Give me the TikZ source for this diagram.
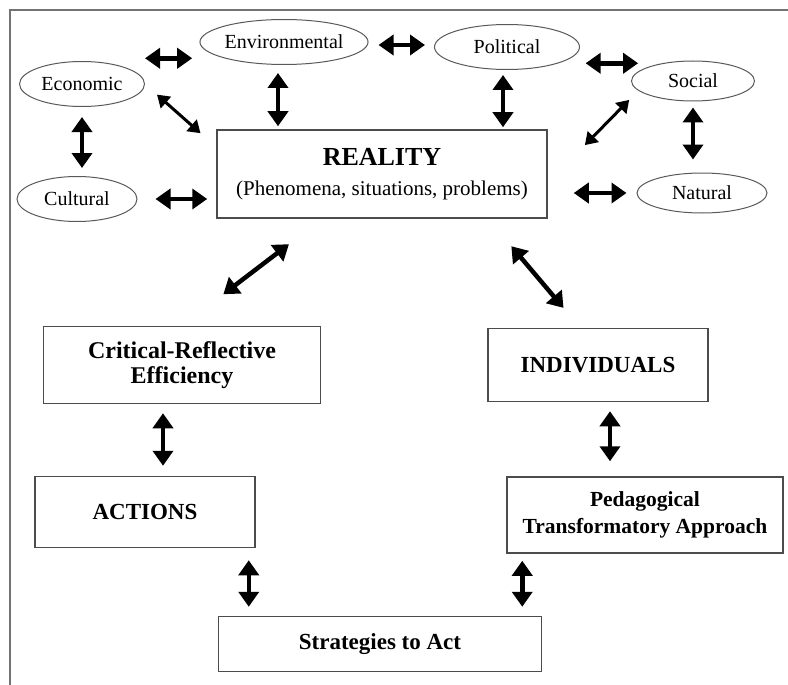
\documentclass[tikz,border=0pt]{standalone}
\usepackage{fontspec}
\setmainfont{Liberation Serif}
\usetikzlibrary{shapes.geometric,arrows.meta,calc}

\begin{document}
\begin{tikzpicture}[x=1pt,y=-1pt]
\tikzstyle{factor}=[draw=black!65,line width=1pt,shape=ellipse,inner sep=0pt,font=\fontsize{20}{22}\selectfont]
\tikzstyle{block}=[draw=black!70,line width=1.5pt,shape=rectangle,inner sep=0pt,align=center,font=\fontsize{23}{26}\selectfont\bfseries]
\tikzstyle{link}=[line width=4.5pt,{Triangle[length=15pt,width=20pt]}-{Triangle[length=15pt,width=20pt]}]
\tikzstyle{thinlink}=[line width=3pt,{Triangle[length=12pt,width=15pt]}-{Triangle[length=12pt,width=15pt]}]
\useasboundingbox (0,0) rectangle (788,685);
\draw[black!55,line width=1.5pt] (10,685) -- (10,10) -- (788,10);

\path (82,84) node[factor,minimum width=125pt,minimum height=45pt](econ){Economic}
 (284,42) node[factor,minimum width=155pt,minimum height=45pt](env){Environmental}
 (507,47) node[factor,minimum width=145pt,minimum height=45pt](pol){Political}
 (693,81) node[factor,minimum width=123pt,minimum height=40pt](soc){Social}
 (702,193) node[factor,minimum width=130pt,minimum height=40pt](nat){Natural}
 (77,199) node[factor,minimum width=120pt,minimum height=45pt](cult){Cultural};

\path (382,174) node[block,minimum width=330pt,minimum height=88pt,font=\fontsize{21}{30}\selectfont](real){{\bfseries\fontsize{26}{30}\selectfont REALITY}\\(Phenomena, situations, problems)}
 (182,365) node[block,minimum width=277pt,minimum height=77pt,font=\fontsize{24}{25}\selectfont\bfseries](crit){Critical-Reflective\\Efficiency}
 (598,365) node[block,minimum width=220pt,minimum height=73pt](ind){INDIVIDUALS}
 (145,512) node[block,minimum width=220pt,minimum height=71pt](act){ACTIONS}
 (645,515) node[block,minimum width=276pt,minimum height=76pt,font=\fontsize{21.5}{27}\selectfont\bfseries](ped){Pedagogical\\Transformatory Approach}
 (380,644) node[block,minimum width=323pt,minimum height=55pt](strat){Strategies to Act};

\draw[link,shorten <=32pt] (env.south west) -- (env.south west -| econ.east);
\draw[link,shorten <=10pt,shorten >=9pt] ([yshift=-3pt]env.east) -- ([yshift=-3pt]env.east -| pol.west);
\draw[link,shorten <=27pt,shorten >=11pt] (pol.south east) -- (pol.south east -| soc.north west);
\draw[link,shorten <=8pt,shorten >=3pt] ([xshift=-6pt]env.south) -- ([xshift=-6pt]env.south |- real.north);
\draw[link,shorten <=5pt,shorten >=2pt] ([xshift=-4pt]pol.south) -- ([xshift=-4pt]pol.south |- real.north);
\draw[link,shorten <=10pt,shorten >=8pt] (econ.south) -- (econ.south |- cult.north);
\draw[link,shorten <=6pt,shorten >=13pt] (soc.south) -- (soc.south |- nat.north);
\draw[thinlink,shorten <=16pt,shorten >=21pt] (econ.east) -- ($(real.north west)!.2!(real.south west)$);
\draw[thinlink,shorten <=13pt,shorten >=53pt] (soc.190) -- ($(real.east)!.2!(real.south east)$);
\draw[link,shorten <=18pt,shorten >=9pt] (cult.east) -- (cult.east -| real.west);
\draw[link,shorten <=10pt,shorten >=26pt] (nat.west) -- (nat.west -| real.east);

\draw[link,shorten <=52pt,shorten >=42pt] (crit.north) -- ($(real.south west)!.32!(real.south east)$);
\draw[link,shorten <=36pt,shorten >=26pt] ($(real.south west)!.82!(real.south east)$) -- ($(ind.north west)!.42!(ind.north east)$);
\draw[link,shorten <=9pt,shorten >=10pt] ([xshift=-19pt]crit.south) -- ([xshift=-19pt]crit.south |- act.north);
\draw[link,shorten <=9pt,shorten >=15pt] ([xshift=12pt]ind.south) -- ([xshift=12pt]ind.south |- ped.north);
\draw[link,shorten <=12pt,shorten >=9pt] ([xshift=-7pt]act.south east) -- ([xshift=-7pt]act.south east |- strat.north);
\draw[link,shorten <=7pt,shorten >=9pt] ([xshift=16pt]ped.south west) -- ([xshift=16pt]ped.south west |- strat.north);
\end{tikzpicture}
\end{document}
